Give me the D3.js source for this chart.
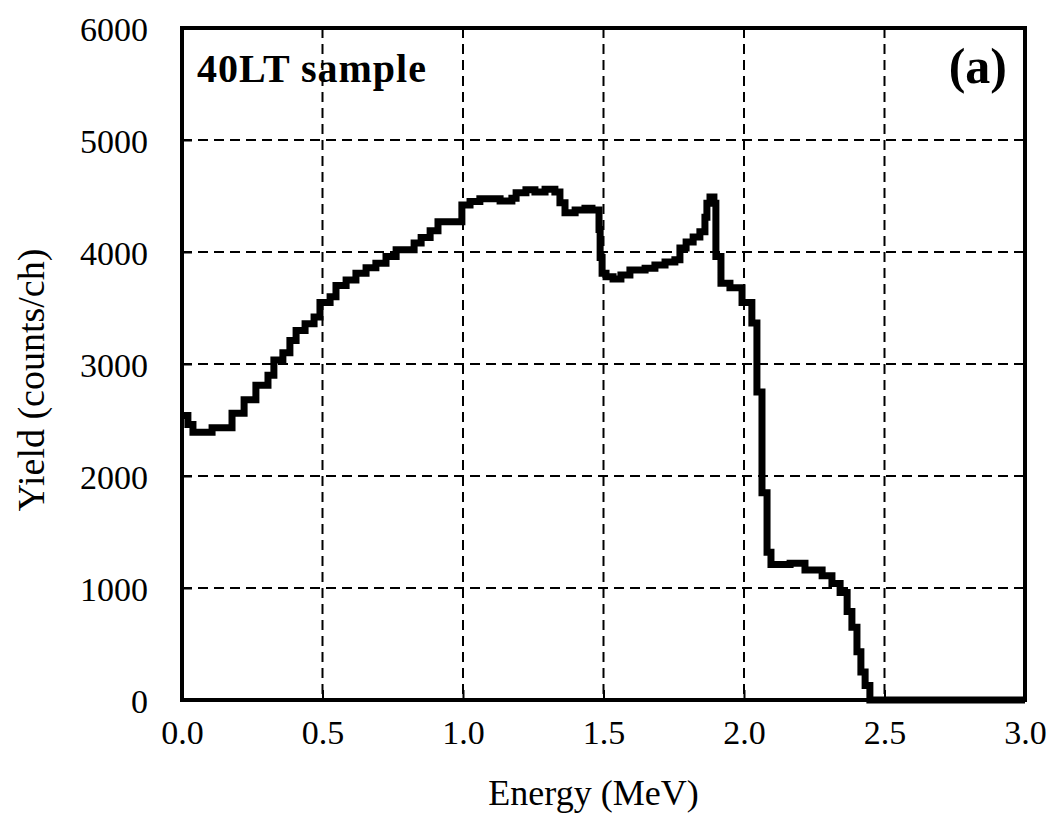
<!DOCTYPE html>
<html>
<head>
<meta charset="utf-8">
<script src="https://cdn.jsdelivr.net/npm/d3@7"></script>
<style>
  body { margin: 0; background: #fff; }
  svg { display: block; }
  text { font-family: "Liberation Serif", "Times New Roman", serif; fill: #000; }
</style>
</head>
<body>
<div id="chart"></div>
<script>
// step spectrum (channel start energy, yield)
var energy = [0.000, 0.021, 0.039, 0.107, 0.178, 0.221, 0.263, 0.306, 0.327, 0.359,
  0.384, 0.406, 0.438, 0.470, 0.491, 0.527, 0.548, 0.584, 0.619, 0.655,
  0.690, 0.726, 0.762, 0.826, 0.851, 0.883, 0.911, 0.996, 1.025, 1.060,
  1.132, 1.174, 1.189, 1.224, 1.256, 1.292, 1.327, 1.345, 1.363, 1.399,
  1.434, 1.459, 1.484, 1.488, 1.495, 1.509, 1.534, 1.562, 1.594, 1.648,
  1.683, 1.719, 1.754, 1.772, 1.794, 1.819, 1.843, 1.861, 1.868, 1.879,
  1.893, 1.900, 1.918, 1.950, 1.993, 2.028, 2.046, 2.064, 2.082, 2.096,
  2.164, 2.217, 2.278, 2.313, 2.342, 2.367, 2.384, 2.402, 2.416, 2.431,
  2.448, 3.000];
var yieldCounts = [2540, 2460, 2390, 2430, 2560, 2680, 2810, 2900, 3035, 3100,
  3210, 3300, 3360, 3420, 3550, 3600, 3700, 3750, 3810, 3860,
  3900, 3960, 4020, 4080, 4130, 4190, 4270, 4420, 4450, 4475,
  4455, 4480, 4530, 4555, 4535, 4560, 4535, 4440, 4350, 4375,
  4390, 4375, 4200, 3950, 3810, 3780, 3760, 3795, 3840, 3855,
  3885, 3910, 3930, 4035, 4090, 4135, 4180, 4310, 4435, 4490,
  4435, 3960, 3720, 3680, 3550, 3365, 2750, 1850, 1320, 1210,
  1220, 1160, 1110, 1040, 960, 790, 650, 430, 250, 130,
  0, 0];
var xTicks = [0, 0.5, 1.0, 1.5, 2.0, 2.5, 3.0];
var yTicks = [0, 1000, 2000, 3000, 4000, 5000, 6000];

var width = 1051, height = 818;
var margin = {top: 28, right: 26, bottom: 118, left: 182};
var w = width - margin.left - margin.right;
var h = height - margin.top - margin.bottom;

var svg = d3.select('#chart').append('svg')
  .attr('width', width)
  .attr('height', height);

var g = svg.append('g')
  .attr('transform', 'translate(' + margin.left + ',' + margin.top + ')');

var x = d3.scaleLinear().domain([0, 3]).range([0, w]);
var y = d3.scaleLinear().domain([0, 6000]).range([h, 0]);

// dashed grid
g.append('g')
  .selectAll('line.vg')
  .data(xTicks.slice(1, -1))
  .enter().append('line')
    .attr('x1', function(d) { return x(d); })
    .attr('x2', function(d) { return x(d); })
    .attr('y1', 0).attr('y2', h)
    .attr('stroke', '#000').attr('stroke-width', 2)
    .attr('stroke-dasharray', '10,6');

g.append('g')
  .selectAll('line.hg')
  .data(yTicks.slice(1, -1))
  .enter().append('line')
    .attr('x1', 0).attr('x2', w)
    .attr('y1', function(d) { return y(d); })
    .attr('y2', function(d) { return y(d); })
    .attr('stroke', '#000').attr('stroke-width', 2)
    .attr('stroke-dasharray', '10,6');

// axes with inward ticks
var xAxis = d3.axisBottom(x).tickValues(xTicks)
  .tickFormat(d3.format('.1f')).tickSizeInner(-10).tickSizeOuter(0).tickPadding(20);
var yAxis = d3.axisLeft(y).tickValues(yTicks)
  .tickFormat(d3.format('d')).tickSizeInner(-10).tickSizeOuter(0).tickPadding(34);

var gx = g.append('g').attr('transform', 'translate(0,' + h + ')').call(xAxis);
var gy = g.append('g').call(yAxis);

[gx, gy].forEach(function(a) {
  a.select('.domain').remove();
  a.selectAll('.tick line').attr('stroke', '#000').attr('stroke-width', 2);
  a.selectAll('.tick text')
    .style('font-family', '"Liberation Serif", serif')
    .style('font-size', '34px')
    .attr('fill', '#000');
});
gy.selectAll('.tick text').attr('dy', '0.36em');

// spectrum
var data = energy.map(function(e, i) { return {e: e, v: yieldCounts[i]}; });
var line = d3.line()
  .x(function(d) { return x(d.e); })
  .y(function(d) { return y(d.v); })
  .curve(d3.curveStepAfter);

g.append('path')
  .datum(data)
  .attr('d', line)
  .attr('fill', 'none')
  .attr('stroke', '#000')
  .attr('stroke-width', 7)
  .attr('stroke-linejoin', 'miter');

// frame
g.append('rect')
  .attr('x', 0).attr('y', 0)
  .attr('width', w).attr('height', h)
  .attr('fill', 'none')
  .attr('stroke', '#000')
  .attr('stroke-width', 4);

// labels
g.append('text')
  .attr('x', 15).attr('y', 54)
  .style('font-size', '40px')
  .style('font-weight', 'bold')
  .style('letter-spacing', '1px')
  .text('40LT sample');

g.append('text')
  .attr('x', w - 18).attr('y', 55)
  .attr('text-anchor', 'end')
  .style('font-size', '50px')
  .style('font-weight', 'bold')
  .text('(a)');

svg.append('text')
  .attr('x', margin.left + w / 2 - 10)
  .attr('y', 805)
  .attr('text-anchor', 'middle')
  .style('font-size', '36px')
  .text('Energy (MeV)');

svg.append('text')
  .attr('transform', 'translate(44,' + (margin.top + h / 2 + 16) + ') rotate(-90)')
  .attr('text-anchor', 'middle')
  .style('font-size', '38px')
  .text('Yield (counts/ch)');
</script>
</body>
</html>
